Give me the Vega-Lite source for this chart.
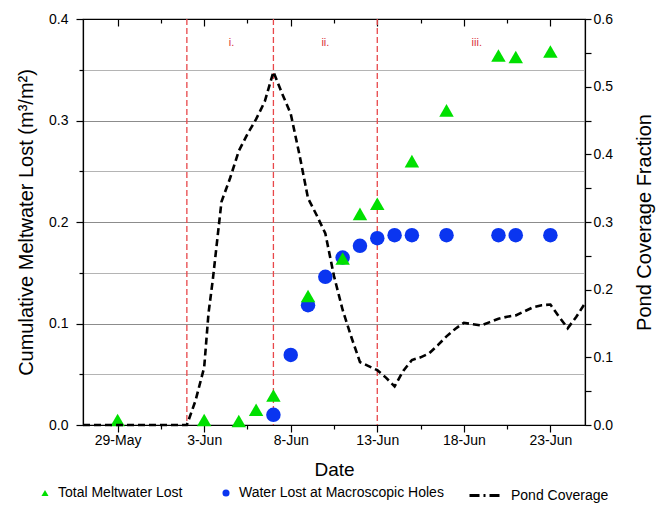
{
  "$schema": "https://vega.github.io/schema/vega-lite/v6.json",
  "width": 502,
  "height": 406,
  "autosize": {"type": "none"},
  "padding": {"left": 83, "top": 19, "right": 76, "bottom": 81},
  "background": "white",
  "config": {
    "font": "Liberation Sans",
    "view": {"stroke": "black", "strokeWidth": 1.2},
    "axis": {
      "domainColor": "black",
      "domainWidth": 1.2,
      "tickColor": "black",
      "tickWidth": 1.2,
      "labelColor": "black",
      "labelFont": "Liberation Sans",
      "labelFontSize": 14,
      "titleFont": "Liberation Sans",
      "titleFontWeight": "normal",
      "titleColor": "black",
      "labelOverlap": false,
      "labelFlush": false
    },
    "legend": {"labelFont": "Liberation Sans", "labelColor": "black", "labelFontSize": 14, "labelLimit": 400}
  },
  "datasets": {
    "events": [
      {"date": "2014-06-02T00:00:00Z"},
      {"date": "2014-06-07T00:00:00Z"},
      {"date": "2014-06-13T00:00:00Z"}
    ],
    "phases": [
      {"date": "2014-06-04T14:00:00Z", "value": 0.376, "label": "i."},
      {"date": "2014-06-10T00:00:00Z", "value": 0.376, "label": "ii."},
      {"date": "2014-06-18T18:00:00Z", "value": 0.376, "label": "iii."}
    ],
    "points": [
      {"date": "2014-06-07T00:00:00Z", "series": "Water Lost at Macroscopic Holes", "value": 0.010},
      {"date": "2014-06-08T00:00:00Z", "series": "Water Lost at Macroscopic Holes", "value": 0.069},
      {"date": "2014-06-09T00:00:00Z", "series": "Water Lost at Macroscopic Holes", "value": 0.118},
      {"date": "2014-06-10T00:00:00Z", "series": "Water Lost at Macroscopic Holes", "value": 0.146},
      {"date": "2014-06-11T00:00:00Z", "series": "Water Lost at Macroscopic Holes", "value": 0.165},
      {"date": "2014-06-12T00:00:00Z", "series": "Water Lost at Macroscopic Holes", "value": 0.1765},
      {"date": "2014-06-13T00:00:00Z", "series": "Water Lost at Macroscopic Holes", "value": 0.184},
      {"date": "2014-06-14T00:00:00Z", "series": "Water Lost at Macroscopic Holes", "value": 0.187},
      {"date": "2014-06-15T00:00:00Z", "series": "Water Lost at Macroscopic Holes", "value": 0.187},
      {"date": "2014-06-17T00:00:00Z", "series": "Water Lost at Macroscopic Holes", "value": 0.187},
      {"date": "2014-06-20T00:00:00Z", "series": "Water Lost at Macroscopic Holes", "value": 0.187},
      {"date": "2014-06-21T00:00:00Z", "series": "Water Lost at Macroscopic Holes", "value": 0.187},
      {"date": "2014-06-23T00:00:00Z", "series": "Water Lost at Macroscopic Holes", "value": 0.187},
      {"date": "2014-05-29T00:00:00Z", "series": "Total Meltwater Lost", "value": 0.005},
      {"date": "2014-06-03T00:00:00Z", "series": "Total Meltwater Lost", "value": 0.005},
      {"date": "2014-06-05T00:00:00Z", "series": "Total Meltwater Lost", "value": 0.004},
      {"date": "2014-06-06T00:00:00Z", "series": "Total Meltwater Lost", "value": 0.015},
      {"date": "2014-06-07T00:00:00Z", "series": "Total Meltwater Lost", "value": 0.029},
      {"date": "2014-06-09T00:00:00Z", "series": "Total Meltwater Lost", "value": 0.127},
      {"date": "2014-06-11T00:00:00Z", "series": "Total Meltwater Lost", "value": 0.164},
      {"date": "2014-06-12T00:00:00Z", "series": "Total Meltwater Lost", "value": 0.208},
      {"date": "2014-06-13T00:00:00Z", "series": "Total Meltwater Lost", "value": 0.218},
      {"date": "2014-06-15T00:00:00Z", "series": "Total Meltwater Lost", "value": 0.260},
      {"date": "2014-06-17T00:00:00Z", "series": "Total Meltwater Lost", "value": 0.310},
      {"date": "2014-06-20T00:00:00Z", "series": "Total Meltwater Lost", "value": 0.364},
      {"date": "2014-06-21T00:00:00Z", "series": "Total Meltwater Lost", "value": 0.3625},
      {"date": "2014-06-23T00:00:00Z", "series": "Total Meltwater Lost", "value": 0.368}
    ],
    "pond": [
      {"date": "2014-05-27T00:00:00Z", "series": "Pond Coverage", "fraction": 0},
      {"date": "2014-05-28T00:00:00Z", "series": "Pond Coverage", "fraction": 0},
      {"date": "2014-05-29T00:00:00Z", "series": "Pond Coverage", "fraction": 0},
      {"date": "2014-05-30T00:00:00Z", "series": "Pond Coverage", "fraction": 0},
      {"date": "2014-05-31T00:00:00Z", "series": "Pond Coverage", "fraction": 0},
      {"date": "2014-06-01T00:00:00Z", "series": "Pond Coverage", "fraction": 0},
      {"date": "2014-06-02T00:00:00Z", "series": "Pond Coverage", "fraction": 0},
      {"date": "2014-06-02T12:00:00Z", "series": "Pond Coverage", "fraction": 0.036},
      {"date": "2014-06-03T00:00:00Z", "series": "Pond Coverage", "fraction": 0.085},
      {"date": "2014-06-03T06:00:00Z", "series": "Pond Coverage", "fraction": 0.165},
      {"date": "2014-06-03T12:00:00Z", "series": "Pond Coverage", "fraction": 0.215},
      {"date": "2014-06-04T00:00:00Z", "series": "Pond Coverage", "fraction": 0.33},
      {"date": "2014-06-04T12:00:00Z", "series": "Pond Coverage", "fraction": 0.365},
      {"date": "2014-06-05T00:00:00Z", "series": "Pond Coverage", "fraction": 0.405},
      {"date": "2014-06-05T12:00:00Z", "series": "Pond Coverage", "fraction": 0.43},
      {"date": "2014-06-06T00:00:00Z", "series": "Pond Coverage", "fraction": 0.452},
      {"date": "2014-06-06T12:00:00Z", "series": "Pond Coverage", "fraction": 0.478},
      {"date": "2014-06-07T00:00:00Z", "series": "Pond Coverage", "fraction": 0.522},
      {"date": "2014-06-07T12:00:00Z", "series": "Pond Coverage", "fraction": 0.49},
      {"date": "2014-06-08T00:00:00Z", "series": "Pond Coverage", "fraction": 0.46},
      {"date": "2014-06-08T12:00:00Z", "series": "Pond Coverage", "fraction": 0.40},
      {"date": "2014-06-09T00:00:00Z", "series": "Pond Coverage", "fraction": 0.335},
      {"date": "2014-06-09T12:00:00Z", "series": "Pond Coverage", "fraction": 0.31},
      {"date": "2014-06-10T00:00:00Z", "series": "Pond Coverage", "fraction": 0.283},
      {"date": "2014-06-10T12:00:00Z", "series": "Pond Coverage", "fraction": 0.22},
      {"date": "2014-06-11T00:00:00Z", "series": "Pond Coverage", "fraction": 0.17},
      {"date": "2014-06-11T12:00:00Z", "series": "Pond Coverage", "fraction": 0.13},
      {"date": "2014-06-12T00:00:00Z", "series": "Pond Coverage", "fraction": 0.093},
      {"date": "2014-06-12T12:00:00Z", "series": "Pond Coverage", "fraction": 0.087},
      {"date": "2014-06-13T00:00:00Z", "series": "Pond Coverage", "fraction": 0.081},
      {"date": "2014-06-13T12:00:00Z", "series": "Pond Coverage", "fraction": 0.07},
      {"date": "2014-06-14T00:00:00Z", "series": "Pond Coverage", "fraction": 0.057},
      {"date": "2014-06-14T12:00:00Z", "series": "Pond Coverage", "fraction": 0.08},
      {"date": "2014-06-15T00:00:00Z", "series": "Pond Coverage", "fraction": 0.096},
      {"date": "2014-06-15T12:00:00Z", "series": "Pond Coverage", "fraction": 0.10},
      {"date": "2014-06-16T00:00:00Z", "series": "Pond Coverage", "fraction": 0.106},
      {"date": "2014-06-16T12:00:00Z", "series": "Pond Coverage", "fraction": 0.118},
      {"date": "2014-06-17T00:00:00Z", "series": "Pond Coverage", "fraction": 0.131},
      {"date": "2014-06-17T12:00:00Z", "series": "Pond Coverage", "fraction": 0.142},
      {"date": "2014-06-18T00:00:00Z", "series": "Pond Coverage", "fraction": 0.151},
      {"date": "2014-06-18T12:00:00Z", "series": "Pond Coverage", "fraction": 0.149},
      {"date": "2014-06-19T00:00:00Z", "series": "Pond Coverage", "fraction": 0.147},
      {"date": "2014-06-19T12:00:00Z", "series": "Pond Coverage", "fraction": 0.152},
      {"date": "2014-06-20T00:00:00Z", "series": "Pond Coverage", "fraction": 0.157},
      {"date": "2014-06-20T12:00:00Z", "series": "Pond Coverage", "fraction": 0.160},
      {"date": "2014-06-21T00:00:00Z", "series": "Pond Coverage", "fraction": 0.162},
      {"date": "2014-06-21T12:00:00Z", "series": "Pond Coverage", "fraction": 0.168},
      {"date": "2014-06-22T00:00:00Z", "series": "Pond Coverage", "fraction": 0.174},
      {"date": "2014-06-22T12:00:00Z", "series": "Pond Coverage", "fraction": 0.177},
      {"date": "2014-06-23T00:00:00Z", "series": "Pond Coverage", "fraction": 0.178},
      {"date": "2014-06-23T12:00:00Z", "series": "Pond Coverage", "fraction": 0.16},
      {"date": "2014-06-24T00:00:00Z", "series": "Pond Coverage", "fraction": 0.143},
      {"date": "2014-06-24T12:00:00Z", "series": "Pond Coverage", "fraction": 0.16},
      {"date": "2014-06-25T00:00:00Z", "series": "Pond Coverage", "fraction": 0.18}
    ]
  },
  "layer": [
    {
      "data": {"name": "events"},
      "mark": {"type": "rule", "color": "#e8474a", "strokeWidth": 1.3, "strokeDash": [6, 3]},
      "encoding": {
        "x": {
          "field": "date", "type": "temporal",
          "scale": {"type": "utc", "domain": ["2014-05-27T00:00:00Z", "2014-06-25T00:00:00Z"]},
          "axis": {
            "orient": "top",
            "title": null,
            "labels": false,
            "grid": false,
            "values": ["2014-05-29T00:00:00Z", "2014-05-31T12:00:00Z", "2014-06-03T00:00:00Z", "2014-06-05T12:00:00Z", "2014-06-08T00:00:00Z", "2014-06-10T12:00:00Z", "2014-06-13T00:00:00Z", "2014-06-15T12:00:00Z", "2014-06-18T00:00:00Z", "2014-06-20T12:00:00Z", "2014-06-23T00:00:00Z"],
            "tickSize": {"condition": {"test": "utchours(datum.value) == 12", "value": -4}, "value": -7}
          }
        }
      }
    },
    {
      "data": {"name": "phases"},
      "mark": {"type": "text", "color": "#d9363a", "fontSize": 11, "baseline": "middle", "align": "center"},
      "encoding": {
        "x": {"field": "date", "type": "temporal", "scale": {"type": "utc", "domain": ["2014-05-27T00:00:00Z", "2014-06-25T00:00:00Z"]}, "axis": null},
        "y": {"field": "value", "type": "quantitative", "scale": {"domain": [0, 0.4]}, "axis": null},
        "text": {"field": "label"}
      }
    },
    {
      "data": {"name": "points"},
      "mark": {"type": "point", "filled": true, "opacity": 1, "size": 210},
      "encoding": {
        "x": {
          "field": "date", "type": "temporal",
          "scale": {"type": "utc", "domain": ["2014-05-27T00:00:00Z", "2014-06-25T00:00:00Z"]},
          "axis": {
            "orient": "bottom",
            "title": "Date",
            "titleFontSize": 19,
            "titlePadding": 13,
            "grid": false,
            "values": ["2014-05-29T00:00:00Z", "2014-05-31T12:00:00Z", "2014-06-03T00:00:00Z", "2014-06-05T12:00:00Z", "2014-06-08T00:00:00Z", "2014-06-10T12:00:00Z", "2014-06-13T00:00:00Z", "2014-06-15T12:00:00Z", "2014-06-18T00:00:00Z", "2014-06-20T12:00:00Z", "2014-06-23T00:00:00Z"],
            "labelExpr": "utchours(datum.value) == 12 ? '' : utcFormat(datum.value, '%-d-%b')",
            "tickSize": {"condition": {"test": "utchours(datum.value) == 12", "value": 4}, "value": 7},
            "labelPadding": 1
          }
        },
        "y": {
          "field": "value", "type": "quantitative",
          "scale": {"domain": [0, 0.4]},
          "axis": {
            "orient": "left",
            "title": "Cumulative Meltwater Lost (m³/m²)",
            "titleFontSize": 20,
            "titlePadding": 12,
            "values": [0, 0.05, 0.1, 0.15, 0.2, 0.25, 0.3, 0.35, 0.4],
            "labelExpr": "abs(datum.value * 10 - round(datum.value * 10)) < 0.001 ? format(datum.value, '.1f') : ''",
            "tickSize": {"condition": {"test": "abs(datum.value * 10 - round(datum.value * 10)) < 0.001", "value": 7}, "value": 4},
            "labelPadding": 8,
            "grid": true,
            "gridColor": {"condition": {"test": "abs(datum.value * 10 - round(datum.value * 10)) < 0.001", "value": "#8c8c8c"}, "value": "#b4b4b4"},
            "gridWidth": 1.2
          }
        },
        "color": {
          "field": "series", "type": "nominal",
          "scale": {"domain": ["Total Meltwater Lost", "Water Lost at Macroscopic Holes"], "range": ["#00e000", "#0a35f0"]},
          "legend": {
            "orient": "none", "legendX": -45, "legendY": 467, "direction": "horizontal",
            "title": null, "symbolSize": 50, "labelOffset": 6, "columnPadding": 36, "symbolStrokeWidth": 0
          }
        },
        "shape": {
          "field": "series", "type": "nominal",
          "scale": {"domain": ["Total Meltwater Lost", "Water Lost at Macroscopic Holes"], "range": ["triangle-up", "circle"]}
        }
      }
    },
    {
      "data": {"name": "pond"},
      "mark": {"type": "line", "strokeWidth": 2.6, "strokeDash": [7, 4]},
      "encoding": {
        "x": {"field": "date", "type": "temporal", "scale": {"type": "utc", "domain": ["2014-05-27T00:00:00Z", "2014-06-25T00:00:00Z"]}, "axis": null},
        "y": {
          "field": "fraction", "type": "quantitative",
          "scale": {"domain": [0, 0.6]},
          "axis": {
            "orient": "right",
            "title": "Pond Coverage Fraction",
            "titleFontSize": 20,
            "titleAngle": 270,
            "titleBaseline": "top",
            "titlePadding": 22,
            "values": [0, 0.05, 0.1, 0.15, 0.2, 0.25, 0.3, 0.35, 0.4, 0.45, 0.5, 0.55, 0.6],
            "labelExpr": "abs(datum.value * 10 - round(datum.value * 10)) < 0.001 ? format(datum.value, '.1f') : ''",
            "tickSize": 6,
            "labelPadding": 2,
            "grid": false
          }
        },
        "stroke": {
          "field": "series", "type": "nominal",
          "scale": {"domain": ["Pond Coverage"], "range": ["black"]},
          "legend": {
            "orient": "none", "legendX": 385, "legendY": 460, "title": null,
            "symbolType": "stroke", "symbolSize": 900, "symbolStrokeWidth": 3,
            "labelOffset": 10,
            "symbolDash": [10, 4, 2, 4]
          }
        }
      }
    }
  ],
  "resolve": {
    "scale": {"y": "independent"},
    "axis": {"x": "independent", "y": "independent"}
  }
}
